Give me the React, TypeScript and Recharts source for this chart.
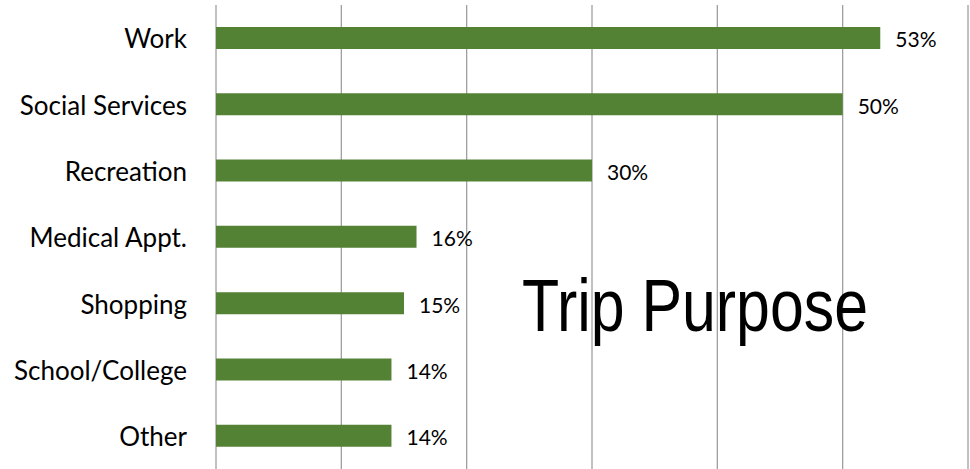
import React from 'react';
import { BarChart, Bar, XAxis, YAxis, CartesianGrid, LabelList } from 'recharts';

const purposes = ['Work', 'Social Services', 'Recreation', 'Medical Appt.', 'Shopping', 'School/College', 'Other'];
const shares = [53, 50, 30, 16, 15, 14, 14];
const xTicks = [0, 10, 20, 30, 40, 50, 60];
const title = 'Trip Purpose';

const data = purposes.map((name, i) => ({ name, value: shares[i] }));

const FONT = 'Lato, "Open Sans", sans-serif';

export default function App() {
    return (
        <div style={{ position: 'absolute', left: 0, top: 0, width: 970, height: 469, background: '#fff' }}>
            <BarChart
                width={970}
                height={469}
                data={data}
                layout="vertical"
                margin={{ top: 5, right: 2, left: 0, bottom: 0 }}
                barCategoryGap={0}
            >
                <CartesianGrid horizontal={false} stroke="#a0a0a0" strokeWidth={1.3} />
                <XAxis
                    type="number"
                    domain={[0, 60]}
                    ticks={xTicks}
                    height={0}
                    tick={() => <g />}
                    axisLine={false}
                    tickLine={false}
                />
                <YAxis
                    type="category"
                    dataKey="name"
                    width={216}
                    axisLine={false}
                    tickLine={false}
                    tickSize={0}
                    tickMargin={29}
                    tick={{ fill: '#000', fontSize: 26, fontFamily: FONT, dy: 1 }}
                />
                <Bar dataKey="value" fill="#548235" barSize={22} isAnimationActive={false}>
                    <LabelList
                        dataKey="value"
                        position="right"
                        offset={15}
                        dy={2}
                        formatter={(v: any) => `${v}%`}
                        style={{ fill: '#000', fontSize: 21, fontFamily: FONT }}
                    />
                </Bar>
            </BarChart>
            <svg width={970} height={469} style={{ position: 'absolute', left: 0, top: 0, pointerEvents: 'none' }}>
                <text
                    x={522}
                    y={331}
                    fontSize={74}
                    fontFamily='"Liberation Sans Narrow", "Liberation Sans", Arial, sans-serif'
                    textLength={346}
                    lengthAdjust="spacingAndGlyphs"
                    fill="#000"
                >
                    {title}
                </text>
            </svg>
        </div>
    );
}
